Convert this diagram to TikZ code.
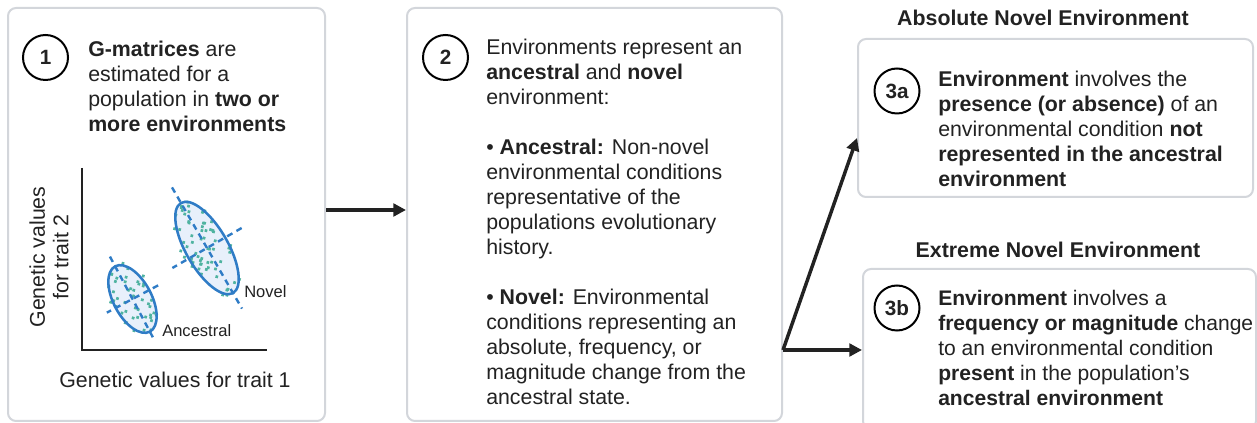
\documentclass[tikz,border=0pt]{standalone}
\usepackage{fontspec}
\setmainfont{Liberation Sans}
\usetikzlibrary{arrows.meta,calc}
\definecolor{boxgray}{HTML}{D3D6DB}
\definecolor{txt}{HTML}{222222}
\definecolor{eblue}{HTML}{2F7CC6}
\definecolor{efill}{HTML}{E8F0FB}
\definecolor{dotc}{HTML}{4FB3A0}
\begin{document}
\begin{tikzpicture}[x=0.75pt,y=-0.75pt,
  panel/.style={draw=boxgray, line width=1.5pt, rounded corners=6pt, fill=white, inner sep=0pt},
  num/.style={circle, draw=black, line width=1.5pt, minimum size=33.75pt, inner sep=0pt, text=txt,
    font=\bfseries\fontsize{15.5pt}{16pt}\selectfont},
  body/.style={anchor=base west, align=left, inner sep=0pt, text=txt,
    font=\fontsize{16pt}{18.75pt}\selectfont},
  ttl/.style={anchor=base, inner sep=0pt, text=txt, font=\bfseries\fontsize{16pt}{18.75pt}\selectfont},
  small/.style={anchor=base west, inner sep=0pt, text=txt, font=\fontsize{12.4pt}{15pt}\selectfont},
  arr/.style={line width=2.6pt, draw=txt, -{Triangle[length=9.5pt,width=9.5pt]}},
  eline/.style={draw=eblue, line width=1.9pt},
  eaxis/.style={draw=eblue, line width=1.8pt, dash pattern=on 4.5pt off 3.5pt},
]
\useasboundingbox (0,0) rectangle (1257,423);

% panels
\node[panel, minimum width=237.75pt, minimum height=309.75pt] (box1) at (166.5,214.5) {};
\node[panel, minimum width=281.25pt, minimum height=309.75pt] (box2) at (594.5,214.5) {};
\node[panel, minimum width=296.25pt, minimum height=118.5pt] (box3a) at (1055.5,118) {};
\node[panel, minimum width=294.75pt, minimum height=120pt] (box3b) at (1059.5,349) {};

% numbers
\node[num] (n1) at (45.5,57.5) {1};
\node[num] (n2) at (445.5,57.5) {2};
\node[num] (n3a) at (897,91) {3a};
\node[num] (n3b) at (897,308) {3b};

% texts (anchored at the baseline of their last line)
\node[body] (t1) at (88,132) {\textbf{G-matrices} are\\estimated for a\\population in \textbf{two or}\\\textbf{more environments}};
\node[body] (t2) at (486,405) {Environments represent an\\\textbf{ancestral} and \textbf{novel}\\environment:\\[18.75pt]
• \textbf{Ancestral:} Non-novel\\environmental conditions\\representative of the\\populations evolutionary\\history.\\[18.75pt]
• \textbf{Novel:} Environmental\\conditions representing an\\absolute, frequency, or\\magnitude change from the\\ancestral state.};
\node[body] (t3a) at (938,187) {\textbf{Environment} involves the\\\textbf{presence (or absence)} of an\\environmental condition \textbf{not}\\\textbf{represented in the ancestral}\\\textbf{environment}};
\node[body, font=\fontsize{15.8pt}{18.75pt}\selectfont] (t3b) at (938,406) {\textbf{Environment} involves a\\\textbf{frequency or magnitude} change\\to an environmental condition\\\textbf{present} in the population’s\\\textbf{ancestral environment}};
\node[ttl] (h3a) at (1043,26) {Absolute Novel Environment};
\node[ttl] (h3b) at (1058,258) {Extreme Novel Environment};

% plot
\draw[txt, line width=2.2pt] (82,168) -- (82,350) -- (267,350);
\node[anchor=base, inner sep=0pt, text=txt, font=\fontsize{16pt}{17pt}\selectfont] (xl) at (175,388) {Genetic values for trait 1};
\node[rotate=90, align=center, inner sep=0pt, text=txt, font=\fontsize{16pt}{17.5pt}\selectfont] (yl) at (49,257) {Genetic values\\for trait 2};

% novel ellipse
\begin{scope}[shift={(207,248)}, rotate=-60]
  \fill[efill] (0,0) ellipse [x radius=52, y radius=21];
  \pgfmathsetseed{11}
  \foreach \i in {1,...,62}{
    \pgfmathsetmacro\rr{sqrt(rnd)}
    \pgfmathsetmacro\tt{360*rnd}
    \fill[dotc] ({57*\rr*cos(\tt)},{25*\rr*sin(\tt)}) circle (1.9);
  }
  \draw[eaxis] (-70,0) -- (70,0);
  \draw[eaxis] (0,-40) -- (0,40);
  \draw[eline] (0,0) ellipse [x radius=52, y radius=21];
\end{scope}
% ancestral ellipse
\begin{scope}[shift={(132.5,299)}, rotate=-62]
  \fill[efill] (0,0) ellipse [x radius=37, y radius=19];
  \pgfmathsetseed{5}
  \foreach \i in {1,...,45}{
    \pgfmathsetmacro\rr{sqrt(rnd)}
    \pgfmathsetmacro\tt{360*rnd}
    \fill[dotc] ({41*\rr*cos(\tt)},{22*\rr*sin(\tt)}) circle (1.9);
  }
  \draw[eaxis] (-48,0) -- (48,0);
  \draw[eaxis] (0,-29) -- (0,29);
  \draw[eline] (0,0) ellipse [x radius=37, y radius=19];
\end{scope}
\node[small] (lnov) at (244,298) {Novel};
\node[small] (lanc) at (162,337) {Ancestral};

% arrows
\draw[arr] (box1.east |- 0,210) -- (box2.west |- 0,210);
\coordinate (split) at (box2.east |- 0,350);
\draw[arr] (split) -- (box3a.west |- 0,138);
\draw[arr] (split) -- (box3b.west |- split);
\end{tikzpicture}
\end{document}
